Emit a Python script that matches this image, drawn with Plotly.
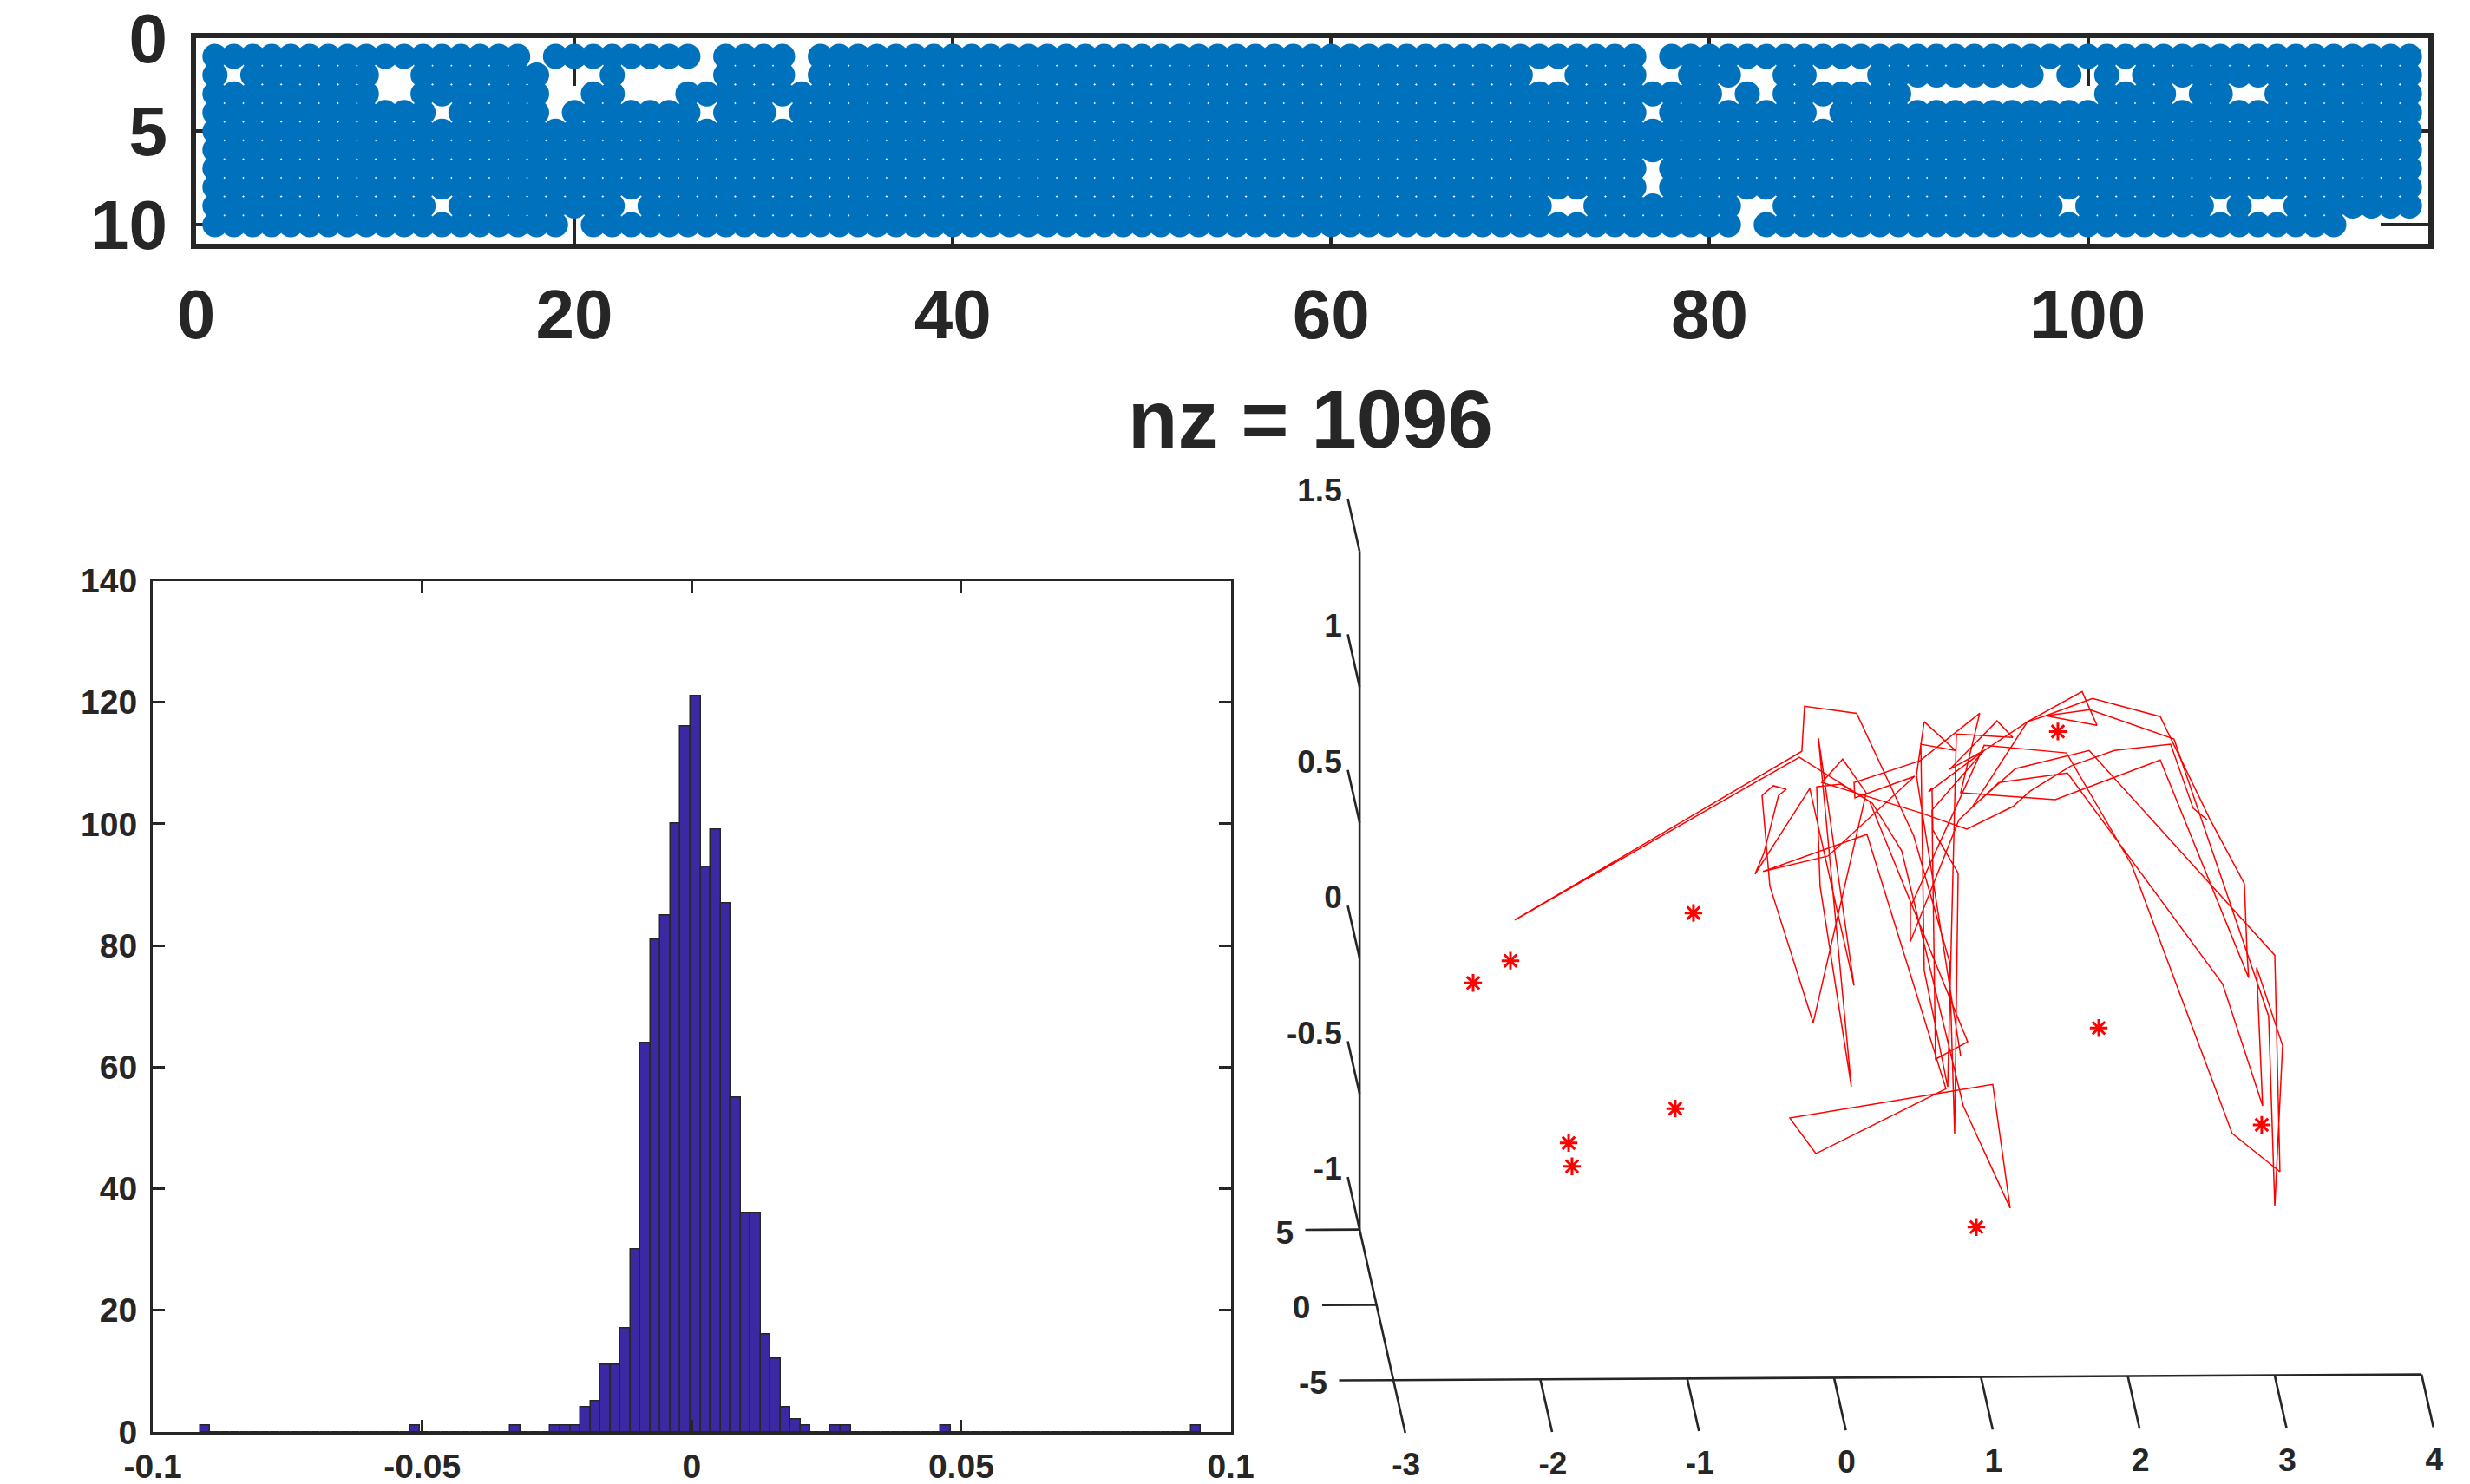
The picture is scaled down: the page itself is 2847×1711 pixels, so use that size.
import plotly.graph_objects as go

W, H = 2847, 1711
FONT = "Liberation Sans"
INK = "#262626"

# ---------- sparsity pattern (10 rows x 117 columns, nz = 1096) ----------
n_rows = 10
n_cols = 117
missing = {
    1: [18, 27, 32, 77],
    2: [2, 10, 11, 19, 20, 21, 23, 24, 25, 26, 27, 32, 71, 72, 77, 78, 82, 83,
        86, 87, 88, 98, 100, 102],
    3: [10, 11, 19, 20, 23, 24, 25, 81, 83, 91, 92, 93, 94, 95, 96, 97, 98, 99,
        100, 105, 108, 109],
    4: [13, 19, 27, 31, 77, 86],
    5: [],
    6: [],
    7: [77],
    8: [77],
    9: [13, 23, 72, 73, 82, 83, 99, 107, 109, 110],
    10: [20, 82, 114, 115, 116, 117],
}
spy_xticks = [0, 20, 40, 60, 80, 100]
spy_yticks = [0, 5, 10]
spy_title = "nz = 1096"

# ---------- histogram (100 bins) ----------
hist_start = -0.0912
hist_bin = 0.001857
hist_counts = [
    1, 0, 0, 0, 0, 0, 0, 0, 0, 0,
    0, 0, 0, 0, 0, 0, 0, 0, 0, 0,
    0, 1, 0, 0, 0, 0, 0, 0, 0, 0,
    0, 1, 0, 0, 0, 1, 1, 1, 4, 5,
    11, 11, 17, 30, 64, 81, 85, 100, 116, 121,
    93, 99, 87, 55, 36, 36, 16, 12, 4, 2,
    1, 0, 0, 1, 1, 0, 0, 0, 0, 0,
    0, 0, 0, 0, 1, 0, 0, 0, 0, 0,
    0, 0, 0, 0, 0, 0, 0, 0, 0, 0,
    0, 0, 0, 0, 0, 0, 0, 0, 0, 1,
]
hist_xticks = [-0.1, -0.05, 0, 0.05, 0.1]
hist_xlabels = ["-0.1", "-0.05", "0", "0.05", "0.1"]
hist_yticks = [0, 20, 40, 60, 80, 100, 120, 140]

# ---------- 3-D view, values as seen in the view plane (x, z) ----------
path_x = [
    0.862, 0.561, 0.614, 0.827, 0.591, 0.614, 0.774, 0.833, 1.217, 1.110,
    0.786, 1.022, 1.317, 1.441, 1.760, 2.221, 2.558, 2.794, 2.812, 2.823,
    2.221, 1.506, 0.862, 0.992, 0.585, 0.136, 0.142, 0.549, -0.041, -0.484,
    0.224, 0.762, -0.124, -0.301, 1.081, 1.199, 0.880, 0.461, 0.260, -0.236,
    -2.174, -0.219, -0.201, 0.154, 0.543, 0.786, 0.821, 0.845, 0.673, 0.667,
    0.644, 1.022, 0.667, 0.691, 0.910, 0.242, 0.047, -0.118, -0.095, 0.118,
    -0.106, 0.136, -0.165, -0.538, -0.478, -0.378, -0.325, -0.413, -0.490, -0.437,
    -0.142, 0.219, 0.059, -0.083, 0.585, 0.904, 1.217, 1.335, 1.613, 1.908,
    2.292, 2.445, 2.540, None,
    0.851, 0.520, 0.520, 1.022, 1.583, 2.026, 2.250, 2.711, 3.036, 3.001,
    1.737, 1.235, 0.939, 1.317, 1.689, 1.790, 1.441, 1.742, 2.315, 2.959,
    3.001, 3.054, 2.877, 2.918, 2.646, 1.589, 1.122, 0.851,
]
path_z = [
    -0.360, 0.673, 0.871, 0.765, 0.788, -0.045, -0.475, 0.826, 0.813, 0.874,
    0.695, 0.765, 0.871, 0.893, 0.957, 0.890, 0.513, 0.274, 0.019, -0.073,
    0.730, 0.584, 0.609, 0.902, 0.727, 0.647, 0.590, 0.670, 0.376, 0.319,
    0.456, -0.482, -0.721, -0.590, -0.466, -0.922, -0.545, 0.395, 0.571, 0.740,
    0.140, 0.762, 0.928, 0.902, 0.450, -0.013, -0.647, 0.313, 0.472, 0.628,
    0.612, 0.765, 0.545, -0.373, -0.309, 0.577, 0.641, 0.631, 0.265, -0.475,
    0.810, -0.102, 0.625, 0.309, 0.386, 0.599, 0.622, 0.635, 0.599, 0.265,
    -0.239, 0.609, 0.733, 0.647, 0.536, 0.475, 0.558, 0.615, 0.708, 0.765,
    0.788, 0.552, 0.510, None,
    0.510, 0.061, 0.188, 0.784, 0.756, 0.344, 0.019, -0.647, -0.788, 0.010,
    0.765, 0.698, 0.555, 0.871, 0.982, 0.858, 0.893, 0.915, 0.807, -0.214,
    -0.915, -0.322, -0.035, -0.545, -0.096, 0.682, 0.647, 0.510,
]
star_x = [1.524, -0.957, -2.203, -2.457, 1.802, -1.081, -1.807, -1.784, 2.912, 0.969]
star_z = [0.835, 0.166, -0.010, -0.092, -0.258, -0.555, -0.682, -0.768, -0.615, -0.992]
view_xticks = [-3, -2, -1, 0, 1, 2, 3, 4]
view_yticks = [-5, 0, 5]
view_zticks = [-1, -0.5, 0, 0.5, 1, 1.5]
view_zlabels = ["-1", "-0.5", "0", "0.5", "1", "1.5"]


def dom_x(a, b):
    return [a / W, b / W]


def dom_y(top, bottom):
    return [1 - bottom / H, 1 - top / H]


def proj(x, y, z):
    """Oblique view used by the third panel: depth y shifts the plane position."""
    sx = x - 0.023 * (y + 5)
    sz = z - 0.556 + (0.94 * (x + 3) + 17.4 * (y + 5)) / 313.6
    return sx, sz


def seg(p, q):
    return [p[0], q[0], None], [p[1], q[1], None]


fig = go.Figure()

# ---- spy ----
spy_x, spy_y = [], []
for r in range(1, n_rows + 1):
    for c in range(1, n_cols + 1):
        if c not in missing[r]:
            spy_x.append(c)
            spy_y.append(r)
fig.add_trace(go.Scatter(x=spy_x, y=spy_y, mode="markers", xaxis="x", yaxis="y",
                         marker=dict(size=29, color="#0072BD", line=dict(width=0))))

# ---- histogram ----
fig.add_trace(go.Bar(x0=hist_start + hist_bin / 2, dx=hist_bin, y=hist_counts,
                     xaxis="x2", yaxis="y2", width=hist_bin,
                     marker=dict(color="#3A29A3", line=dict(color="#262626", width=1.5))))

# ---- 3-D style panel ----
ax_x, ax_y = [], []
for a, b in [
    (proj(-3, 5, -1), proj(-3, 5, 1.5)),      # z axis
    (proj(-3, -5, -1), proj(4, -5, -1)),      # x axis
    (proj(-3, 5, -1), proj(-3, -5, -1)),      # y axis
]:
    sx, sy = seg(a, b)
    ax_x += sx
    ax_y += sy
for t in view_xticks:
    sx, sy = seg(proj(t, -5, -1), proj(t, -8.5, -1))
    ax_x += sx
    ax_y += sy
for t in view_zticks:
    sx, sy = seg(proj(-3, 5, t), proj(-3, 8.5, t))
    ax_x += sx
    ax_y += sy
for t in view_yticks:
    sx, sy = seg(proj(-3, t, -1), proj(-3.37, t, -1))
    ax_x += sx
    ax_y += sy
fig.add_trace(go.Scatter(x=ax_x, y=ax_y, mode="lines", xaxis="x3", yaxis="y3",
                         line=dict(color=INK, width=2.6)))
fig.add_trace(go.Scatter(x=path_x, y=path_z, mode="lines", xaxis="x3", yaxis="y3",
                         line=dict(color="#FF0000", width=1.5)))
fig.add_trace(go.Scatter(x=star_x, y=star_z, mode="markers", xaxis="x3", yaxis="y3",
                         marker=dict(symbol="asterisk-open", size=17,
                                     line=dict(color="#FF0000", width=3), color="#FF0000")))

lab_font = dict(family=FONT, size=37, color=INK, weight=700)
lx = [proj(t - 0.047, -10.8, -1) for t in view_xticks]
fig.add_trace(go.Scatter(x=[p[0] for p in lx], y=[p[1] for p in lx],
                         text=[str(t) for t in view_xticks], mode="text",
                         textposition="middle center", textfont=lab_font,
                         xaxis="x3", yaxis="y3", cliponaxis=False))
lz = [proj(-3.04, 8.5, t + 0.02) for t in view_zticks]
fig.add_trace(go.Scatter(x=[p[0] for p in lz], y=[p[1] for p in lz],
                         text=view_zlabels, mode="text",
                         textposition="middle left", textfont=lab_font,
                         xaxis="x3", yaxis="y3", cliponaxis=False))
ly = [proj(-3.45, t, -1.02) for t in view_yticks]
fig.add_trace(go.Scatter(x=[p[0] for p in ly], y=[p[1] for p in ly],
                         text=[str(t) for t in view_yticks], mode="text",
                         textposition="middle left", textfont=lab_font,
                         xaxis="x3", yaxis="y3", cliponaxis=False))

big = dict(family=FONT, size=80, color=INK, weight=700)
mid = dict(family=FONT, size=39, color=INK, weight=700)

fig.update_layout(
    width=W, height=H, margin=dict(l=0, r=0, t=0, b=0),
    paper_bgcolor="white", plot_bgcolor="white", showlegend=False, bargap=0,
    xaxis=dict(domain=dom_x(226, 2799), range=[0, 118], anchor="y", automargin=False,
               tickmode="array", tickvals=spy_xticks, ticks="inside", ticklen=55,
               tickwidth=4, tickcolor=INK, showline=True, linecolor=INK, linewidth=6,
               mirror="ticks", showgrid=False, zeroline=False, layer="below traces",
               tickfont=big, ticklabelstandoff=7, ticklabeloverflow="allow"),
    yaxis=dict(domain=dom_y(43.5, 280.5), range=[11, 0], anchor="x", automargin=False,
               tickmode="array", tickvals=spy_yticks, ticks="inside", ticklen=55,
               tickwidth=4, tickcolor=INK, showline=True, linecolor=INK, linewidth=6,
               mirror="ticks", showgrid=False, zeroline=False, layer="below traces",
               tickfont=big, ticklabelstandoff=11, ticklabeloverflow="allow"),
    xaxis2=dict(domain=dom_x(176, 1418.5), range=[-0.1, 0.1], anchor="y2", automargin=False,
                tickmode="array", tickvals=hist_xticks, ticktext=hist_xlabels,
                ticks="inside", ticklen=14, tickwidth=2.5, tickcolor=INK,
                showline=True, linecolor=INK, linewidth=3, mirror="ticks",
                showgrid=False, zeroline=False, tickfont=mid, ticklabelstandoff=3,
                ticklabeloverflow="allow"),
    yaxis2=dict(domain=dom_y(669.5, 1651), range=[0, 140], anchor="x2", automargin=False,
                tickmode="array", tickvals=hist_yticks,
                ticks="inside", ticklen=14, tickwidth=2.5, tickcolor=INK,
                showline=True, linecolor=INK, linewidth=3, mirror="ticks",
                showgrid=False, zeroline=False, tickfont=mid, ticklabelstandoff=7,
                ticklabeloverflow="allow"),
    xaxis3=dict(domain=dom_x(1440, 2847), range=[-3.981, 4.330], anchor="y3",
                visible=False, automargin=False),
    yaxis3=dict(domain=dom_y(540, 1711), range=[-1.939, 1.805], anchor="x3",
                visible=False, automargin=False),
    annotations=[dict(text=spy_title, x=1511 / W, y=1 - 483 / H, xref="paper", yref="paper",
                      xanchor="center", yanchor="middle", showarrow=False,
                      font=dict(family=FONT, size=94, color=INK, weight=700))],
)

fig.write_html("out.html", config=dict(displayModeBar=False),
               post_script="document.body.style.margin='0';")
